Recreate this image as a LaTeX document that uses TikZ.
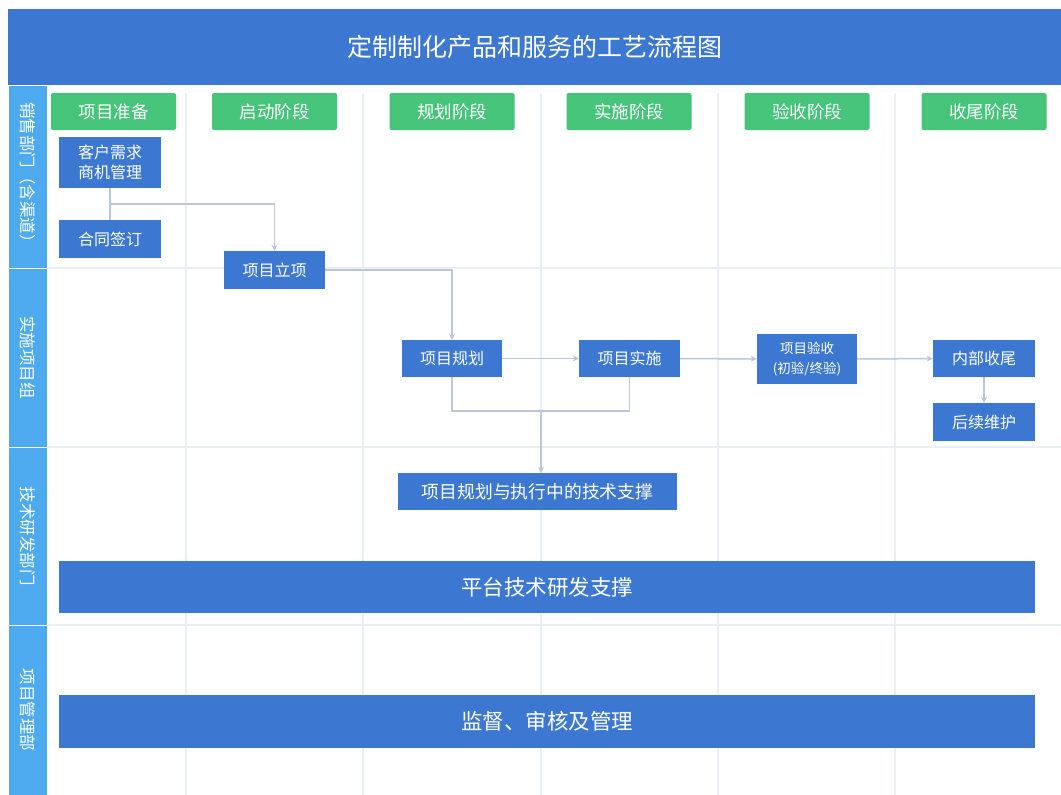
\documentclass[tikz,border=0pt]{standalone}
\usepackage{fontspec}
\setmainfont{Noto Sans CJK SC}
\usepackage{tikz}
\usetikzlibrary{arrows.meta}
\definecolor{titleblue}{HTML}{3C78D2}
\definecolor{boxblue}{HTML}{3C78D2}
\definecolor{phasegreen}{HTML}{46C47A}
\definecolor{lanesky}{HTML}{4DAAEE}
\definecolor{connline}{HTML}{BCC6D8}
\definecolor{gridline}{HTML}{E8F0F4}

\newcommand{\fs}[2]{\fontsize{#1}{#2}\selectfont}

\tikzset{
    lane/.style={fill=lanesky, draw=white, line width=0.8pt, rotate=-90, minimum height=39, inner sep=0, text=white, font=\fs{16.5}{20}},
    phase/.style={fill=phasegreen, rounded corners=2pt, minimum width=125, minimum height=37, inner sep=0, text=white, font=\fs{17.5}{21}},
    task/.style={fill=boxblue, minimum width=101, minimum height=37, inner sep=0, text=white, align=center, font=\fs{16}{20}},
    conn/.style={draw=connline, line width=1.5pt, >={Stealth[length=6pt,width=6pt]}}
}

\begin{document}
\begin{tikzpicture}[x=1pt, y=-1pt]
    \useasboundingbox (0,0) rectangle (1061,795);
    \fill[white] (0,0) rectangle (1061,795);
    % grid of the swimlanes
    \draw[gridline, line width=1.2pt] (186,93) -- (186,795) (363,93) -- (363,795) (541,93) -- (541,795)
        (718,93) -- (718,795) (895,93) -- (895,795);
    \draw[gridline, line width=1.2pt] (47,268) -- (1061,268) (47,447) -- (1061,447) (47,625) -- (1061,625);

    \node[fill=titleblue, minimum width=1053, minimum height=76, inner sep=0, text=white, font=\fs{25}{30}] (title) at (534.5,47) {定制制化产品和服务的工艺流程图};

    \node[lane, minimum width=183] (sales) at (27.5,176.5) {销售部门（含渠道）};
    \node[lane, minimum width=179] (impl) at (27.5,357.5) {实施项目组};
    \node[lane, minimum width=178] (tech) at (27.5,536) {技术研发部门};
    \node[lane, minimum width=170] (pmo) at (27.5,710) {项目管理部};

    \node[phase] (prep) at (113.5,111.5) {项目准备};
    \node[phase] (start) at (274.5,111.5) {启动阶段};
    \node[phase] (plan) at (452,111.5) {规划阶段};
    \node[phase] (exec) at (629,111.5) {实施阶段};
    \node[phase] (accept) at (807,111.5) {验收阶段};
    \node[phase] (close) at (984,111.5) {收尾阶段};

    \node[task, minimum width=102, minimum height=51] (xuqiu) at (110,162.5) {客户需求\\商机管理};
    \node[task, minimum width=102, minimum height=38] (hetong) at (110,239) {合同签订};
    \node[task, minimum height=38] (lixiang) at (274.5,270) {项目立项};
    \node[task, minimum width=100] (guihua) at (452,358.5) {项目规划};
    \node[task] (shishi) at (629.5,358.5) {项目实施};
    \node[task, minimum width=100, minimum height=50, font=\fs{13.5}{19.5}] (yanshou) at (807,359) {项目验收\\(初验/终验)};
    \node[task, minimum width=102] (shouwei) at (984,358.5) {内部收尾};
    \node[task, minimum width=102, minimum height=38] (weihu) at (984,422) {后续维护};
    \node[task, minimum width=279, font=\fs{17.8}{22}] (jishu) at (537.5,491.5) {项目规划与执行中的技术支撑};
    \node[task, minimum width=976, minimum height=52, font=\fs{21.5}{26}] (pingtai) at (547,587) {平台技术研发支撑};
    \node[task, minimum width=976, minimum height=53, font=\fs{21.5}{26}] (jiandu) at (547,721.5) {监督、审核及管理};

    \coordinate (fork) at (110,204);
    \coordinate (join) at (541,411);

    \draw[conn] (xuqiu.south) -- (hetong.north);
    \draw[conn, ->] (fork) -| (lixiang.north);
    \draw[conn, ->] (lixiang.east) -| (guihua.north);
    \draw[conn, ->] (guihua) -- (shishi);
    \draw[conn, ->] (shishi) -- (yanshou);
    \draw[conn, ->] (yanshou) -- (shouwei);
    \draw[conn, ->] (shouwei) -- (weihu);
    \draw[conn] (guihua.south) |- (join) -| (shishi.south);
    \draw[conn, ->] (join) -- (join |- jishu.north);
\end{tikzpicture}
\end{document}
